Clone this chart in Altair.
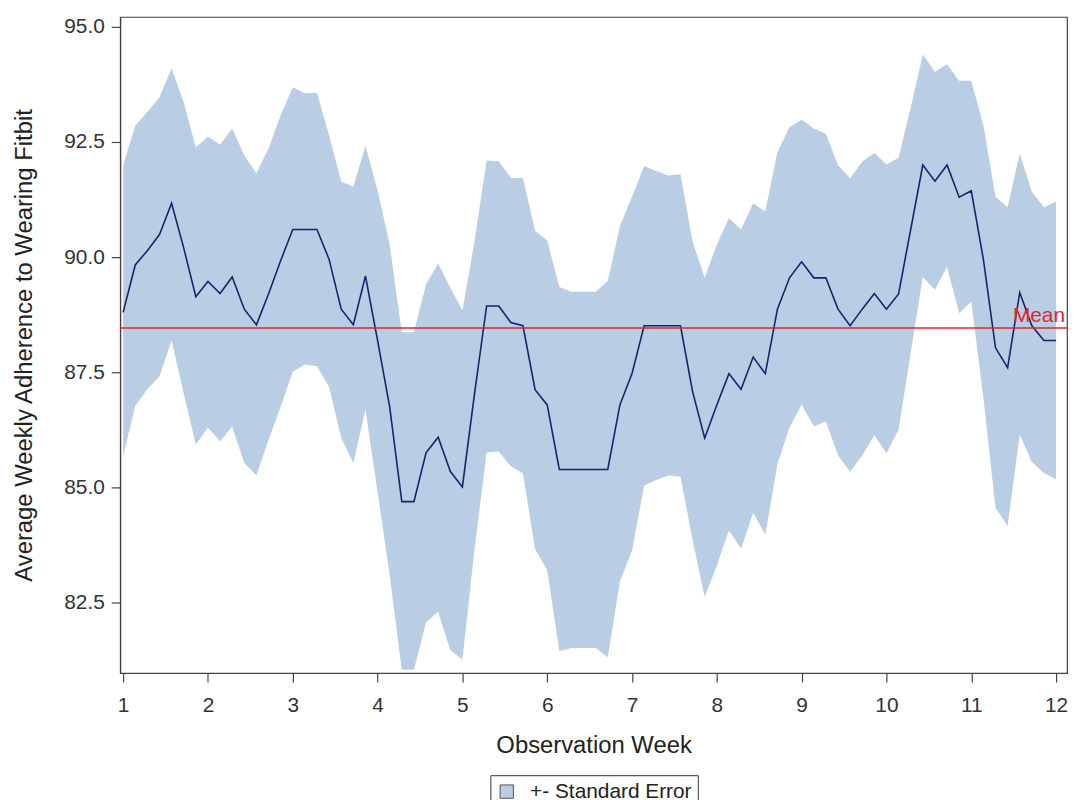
import altair as alt
import pandas as pd

# daily observations, 7 per week, weeks 1..12
day = list(range(78))

mean = [88.80, 89.83, 90.14, 90.49, 91.17, 90.20, 89.14, 89.47, 89.21, 89.57,
        88.87, 88.53, 89.20, 89.92, 90.60, 90.60, 90.60, 89.95, 88.87, 88.53,
        89.59, 88.19, 86.75, 84.69, 84.69, 85.75, 86.09, 85.35, 85.01, 87.03,
        88.94, 88.94, 88.58, 88.51, 87.12, 86.79, 85.39, 85.39, 85.39, 85.39,
        85.39, 86.79, 87.47, 88.51, 88.51, 88.51, 88.51, 87.08, 86.07, 86.79,
        87.47, 87.13, 87.83, 87.47, 88.87, 89.55, 89.90, 89.55, 89.55, 88.87,
        88.51, 88.87, 89.21, 88.87, 89.20, 90.60, 92.00, 91.65, 92.00, 91.30,
        91.44, 89.95, 88.03, 87.60, 89.23, 88.51, 88.19, 88.19]

upper = [91.99, 92.86, 93.15, 93.47, 94.10, 93.36, 92.38, 92.62, 92.44, 92.79,
         92.21, 91.82, 92.36, 93.08, 93.69, 93.56, 93.57, 92.64, 91.64, 91.53,
         92.42, 91.45, 90.27, 88.37, 88.37, 89.41, 89.86, 89.34, 88.84, 90.34,
         92.10, 92.08, 91.72, 91.72, 90.57, 90.36, 89.35, 89.25, 89.25, 89.25,
         89.48, 90.67, 91.31, 91.98, 91.87, 91.77, 91.80, 90.34, 89.55, 90.27,
         90.85, 90.60, 91.17, 90.99, 92.28, 92.82, 92.99, 92.79, 92.68, 92.00,
         91.71, 92.07, 92.26, 92.01, 92.16, 93.25, 94.40, 94.02, 94.19, 93.83,
         93.83, 92.86, 91.31, 91.08, 92.25, 91.42, 91.08, 91.21]

lower = [85.67, 86.77, 87.13, 87.41, 88.19, 87.04, 85.93, 86.30, 86.00, 86.32,
         85.53, 85.26, 86.03, 86.75, 87.51, 87.67, 87.63, 87.18, 86.07, 85.53,
         86.68, 84.90, 83.10, 81.04, 81.04, 82.07, 82.30, 81.47, 81.26, 83.65,
         85.76, 85.78, 85.46, 85.30, 83.66, 83.20, 81.44, 81.51, 81.51, 81.51,
         81.31, 82.95, 83.63, 85.04, 85.16, 85.26, 85.23, 83.85, 82.62, 83.30,
         84.07, 83.67, 84.45, 83.97, 85.50, 86.30, 86.80, 86.33, 86.43, 85.70,
         85.34, 85.69, 86.13, 85.74, 86.25, 87.92, 89.57, 89.29, 89.79, 88.78,
         89.03, 86.95, 84.55, 84.16, 86.15, 85.55, 85.31, 85.17]

overall_mean = 88.46
x_ticks = list(range(1, 13))
y_ticks = [82.5, 85.0, 87.5, 90.0, 92.5, 95.0]
band_label = "+- Standard Error"

df = pd.DataFrame({
    "week": [1 + d / 7 for d in day],
    "mean": mean,
    "upper": upper,
    "lower": lower,
    "band": band_label,
})
mdf = pd.DataFrame({"m": [overall_mean], "label": ["Mean"]})

FONT = "Liberation Sans"
XT = "Observation Week"
YT = "Average Weekly Adherence to Wearing Fitbit"

xscale = alt.Scale(domain=[0.965, 12.129], nice=False, zero=False)
yscale = alt.Scale(domain=[80.97, 95.215], nice=False, zero=False)
xaxis = alt.Axis(values=x_ticks, title=XT, grid=False, tickSize=9, labelPadding=13,
                 titlePadding=18, format="d")
yaxis = alt.Axis(values=y_ticks, title=YT, grid=False, tickSize=9, labelPadding=7,
                 titlePadding=27, format=".1f")

band = alt.Chart(df).mark_area(opacity=1, clip=True).encode(
    x=alt.X("week:Q", scale=xscale, axis=xaxis),
    y=alt.Y("lower:Q", scale=yscale, axis=yaxis),
    y2="upper:Q",
    color=alt.Color("band:N",
                    scale=alt.Scale(domain=[band_label], range=["#B9CDE5"]),
                    legend=alt.Legend(title=None, orient="none", legendX=373, legendY=764,
                                      strokeColor="#333333", padding=6,
                                      symbolType="square", symbolSize=180,
                                      symbolStrokeColor="#555555", symbolStrokeWidth=1,
                                      symbolOpacity=1, labelLimit=0,
                                      labelFontSize=21, labelFont=FONT,
                                      labelColor="#222222", labelOffset=13)),
)

line = alt.Chart(df).mark_line(color="#17246B", strokeWidth=1.6, clip=True).encode(
    x=alt.X("week:Q", scale=xscale, axis=xaxis),
    y=alt.Y("mean:Q", scale=yscale, axis=yaxis),
)

rule = alt.Chart(mdf).mark_rule(color="#E3262B", strokeWidth=1.6).encode(
    y=alt.Y("m:Q", scale=yscale, axis=yaxis),
)

txt = alt.Chart(mdf).mark_text(color="#E3262B", fontSize=21, font=FONT,
                               align="right", baseline="alphabetic", dy=-6).encode(
    x=alt.value(952),
    y=alt.Y("m:Q", scale=yscale, axis=yaxis),
    text="label:N",
)

chart = alt.layer(band, line, rule, txt).properties(
    width=954, height=661,
    autosize=alt.AutoSizeParams(type="none"),
    padding={"left": 113, "top": 6, "right": 3, "bottom": 130},
    background="white",
).configure_view(
    stroke="#444444", strokeWidth=1.2
).configure_axis(
    labelFont=FONT, titleFont=FONT, labelFontSize=21, titleFontSize=24,
    labelColor="#333333", titleColor="#222222", domainColor="#444444",
    tickColor="#444444", titleFontWeight="normal", domainWidth=1.2, tickWidth=1.2,
)

chart.save("out.html", embed_options={"renderer": "svg", "actions": False})
